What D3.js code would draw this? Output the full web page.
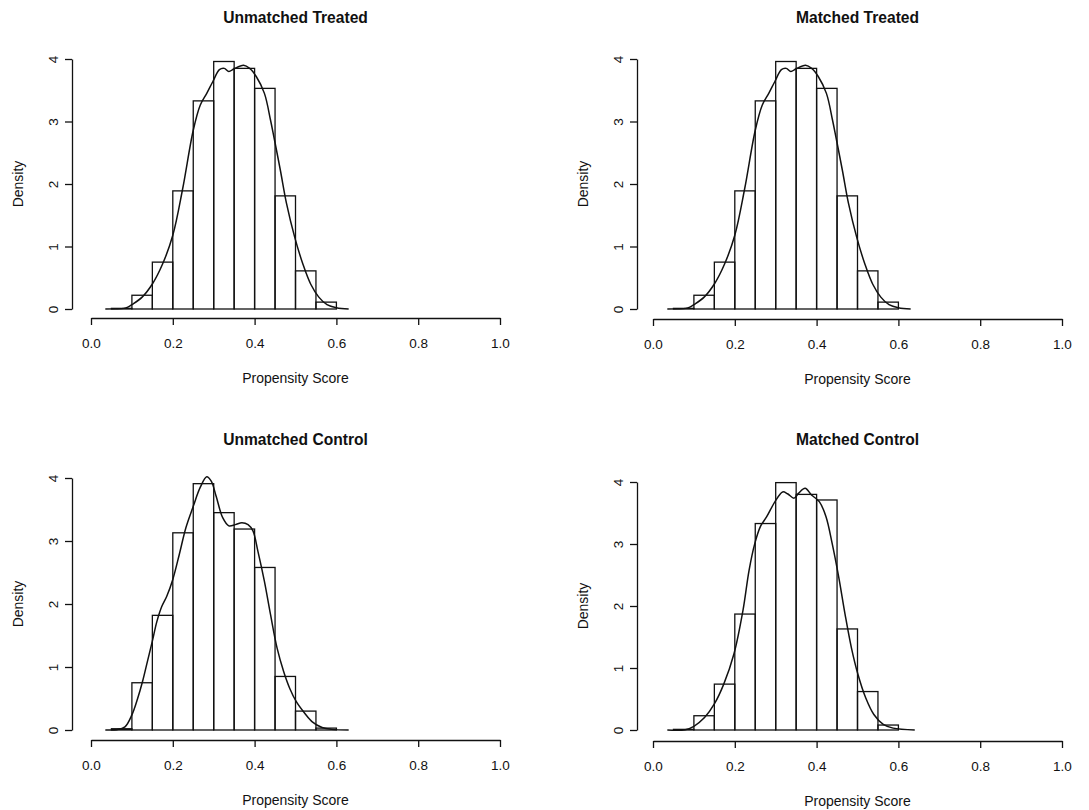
<!DOCTYPE html>
<html>
<head>
<meta charset="utf-8">
<script src="https://cdn.jsdelivr.net/npm/d3@7/dist/d3.min.js"></script>
<style>
  body { margin: 0; background: #fff; }
  svg text { font-family: "Liberation Sans", Arial, sans-serif; fill: #111; }
</style>
</head>
<body>
<div id="chart"></div>
<script>
// histogram bin edges (width 0.05)
var binEdges = [0.05, 0.10, 0.15, 0.20, 0.25, 0.30, 0.35, 0.40, 0.45, 0.50, 0.55, 0.60];

// bar heights (density) per panel
var unmatchedTreatedBars = [0.01, 0.22, 0.75, 1.89, 3.33, 3.96, 3.85, 3.53, 1.81, 0.61, 0.11];
var matchedTreatedBars   = [0.01, 0.22, 0.75, 1.89, 3.33, 3.96, 3.85, 3.53, 1.81, 0.61, 0.11];
var unmatchedControlBars = [0.02, 0.75, 1.82, 3.13, 3.91, 3.45, 3.19, 2.58, 0.85, 0.30, 0.03];
var matchedControlBars   = [0.01, 0.23, 0.74, 1.87, 3.33, 3.99, 3.80, 3.71, 1.63, 0.62, 0.08];

// kernel density curves, [score, density]
var treatedCurve = [
  [0.035, 0], [0.06, 0.002], [0.08, 0.01], [0.09, 0.03], [0.10, 0.07], [0.125, 0.19],
  [0.15, 0.40], [0.175, 0.72], [0.20, 1.18], [0.224, 1.92], [0.25, 2.86], [0.267, 3.26],
  [0.283, 3.45], [0.298, 3.64], [0.314, 3.83], [0.326, 3.85], [0.337, 3.80], [0.349, 3.84],
  [0.373, 3.90], [0.388, 3.85], [0.404, 3.72], [0.424, 3.45], [0.439, 3.02], [0.447, 2.76],
  [0.463, 2.22], [0.478, 1.69], [0.498, 1.15], [0.518, 0.72], [0.537, 0.40], [0.557, 0.19],
  [0.577, 0.07], [0.60, 0.02], [0.63, 0]
];
var unmatchedControlCurve = [
  [0.035, 0], [0.063, 0.005], [0.083, 0.05], [0.10, 0.24], [0.114, 0.50], [0.126, 0.77],
  [0.138, 1.09], [0.15, 1.41], [0.161, 1.72], [0.173, 1.96], [0.185, 2.12], [0.20, 2.39],
  [0.216, 2.79], [0.232, 3.21], [0.25, 3.55], [0.267, 3.85], [0.283, 4.02], [0.294, 3.95],
  [0.306, 3.71], [0.322, 3.37], [0.337, 3.24], [0.353, 3.26], [0.369, 3.29], [0.384, 3.26],
  [0.396, 3.16], [0.408, 2.84], [0.424, 2.36], [0.439, 1.83], [0.455, 1.30], [0.471, 0.93],
  [0.486, 0.66], [0.502, 0.45], [0.522, 0.27], [0.541, 0.13], [0.565, 0.04], [0.588, 0.01],
  [0.63, 0]
];
var matchedControlCurve = [
  [0.035, 0], [0.079, 0.005], [0.10, 0.06], [0.126, 0.20], [0.15, 0.42], [0.173, 0.74],
  [0.198, 1.23], [0.22, 1.93], [0.235, 2.58], [0.249, 3.01], [0.2625, 3.28], [0.278, 3.44],
  [0.298, 3.68], [0.317, 3.84], [0.329, 3.81], [0.345, 3.74], [0.356, 3.82], [0.372, 3.90],
  [0.3875, 3.79], [0.407, 3.68], [0.423, 3.44], [0.438, 3.01], [0.454, 2.47], [0.4695, 1.87],
  [0.485, 1.33], [0.501, 0.90], [0.52, 0.52], [0.54, 0.25], [0.563, 0.09], [0.587, 0.03],
  [0.64, 0]
];

var titles = ["Unmatched Treated", "Matched Treated", "Unmatched Control", "Matched Control"];
var xTicks = [0.0, 0.2, 0.4, 0.6, 0.8, 1.0];
var yTicks = [0, 1, 2, 3, 4];

var panels = [
  { title: titles[0], bars: unmatchedTreatedBars, curve: treatedCurve,
    x0: 91, x1: 500, yZero: 309, yTop: 59, yAxisX: 72, xAxisY: 318, top: 0 },
  { title: titles[1], bars: matchedTreatedBars, curve: treatedCurve,
    x0: 653, x1: 1062, yZero: 309, yTop: 59, yAxisX: 637, xAxisY: 319, top: 0 },
  { title: titles[2], bars: unmatchedControlBars, curve: unmatchedControlCurve,
    x0: 91, x1: 500, yZero: 730, yTop: 478, yAxisX: 72, xAxisY: 740, top: 422 },
  { title: titles[3], bars: matchedControlBars, curve: matchedControlCurve,
    x0: 653, x1: 1062, yZero: 730, yTop: 482, yAxisX: 637, xAxisY: 741, top: 422 }
];

var svg = d3.select("#chart").append("svg")
    .attr("width", 1089)
    .attr("height", 810);

panels.forEach(function(p) {
  var x = d3.scaleLinear().domain([0, 1]).range([p.x0, p.x1]);
  var y = d3.scaleLinear().domain([0, 4]).range([p.yZero, p.yTop]);
  var g = svg.append("g");

  // bars
  g.selectAll("rect.bar")
    .data(p.bars)
    .enter().append("rect")
      .attr("class", "bar")
      .attr("x", function(d, i) { return x(binEdges[i]); })
      .attr("width", function(d, i) { return x(binEdges[i + 1]) - x(binEdges[i]); })
      .attr("y", function(d) { return y(d); })
      .attr("height", function(d) { return y(0) - y(d); })
      .attr("fill", "none")
      .attr("stroke", "#111")
      .attr("stroke-width", 1.3);

  // density line
  g.append("path")
    .datum(p.curve)
    .attr("fill", "none")
    .attr("stroke", "#111")
    .attr("stroke-width", 1.5)
    .attr("stroke-linejoin", "round")
    .attr("d", d3.line()
      .curve(d3.curveCatmullRom.alpha(0.5))
      .x(function(d) { return x(d[0]); })
      .y(function(d) { return y(d[1]); }));

  // x axis
  var xa = g.append("g")
    .attr("transform", "translate(0," + p.xAxisY + ")")
    .call(d3.axisBottom(x).tickValues(xTicks).tickSize(7).tickSizeOuter(0)
      .tickFormat(d3.format(".1f")));
  xa.selectAll("text").attr("dy", null).attr("y", 30).style("font-size", "13.5px");

  // y axis, labels parallel to the axis
  var ya = g.append("g")
    .attr("transform", "translate(" + p.yAxisX + ",0)")
    .call(d3.axisLeft(y).tickValues(yTicks).tickSize(7).tickSizeOuter(0)
      .tickFormat(d3.format("d")));
  ya.selectAll("text")
    .attr("x", null).attr("dy", null)
    .attr("text-anchor", "middle")
    .attr("transform", "translate(-19,0) rotate(-90)")
    .attr("y", 5)
    .style("font-size", "13.5px");

  g.selectAll(".domain, .tick line").attr("stroke", "#111").attr("stroke-width", 1.3);

  // titles and labels
  g.append("text")
    .attr("x", (p.x0 + p.x1) / 2)
    .attr("y", p.top + 23)
    .attr("text-anchor", "middle")
    .style("font-size", "15.6px")
    .style("font-weight", "bold")
    .text(p.title);

  g.append("text")
    .attr("x", (p.x0 + p.x1) / 2)
    .attr("y", p.xAxisY + 65)
    .attr("text-anchor", "middle")
    .style("font-size", "14px")
    .text("Propensity Score");

  g.append("text")
    .attr("transform", "translate(" + (p.yAxisX - 49) + "," + ((p.yZero + p.yTop) / 2) + ") rotate(-90)")
    .attr("text-anchor", "middle")
    .style("font-size", "14px")
    .text("Density");
});
</script>
</body>
</html>
